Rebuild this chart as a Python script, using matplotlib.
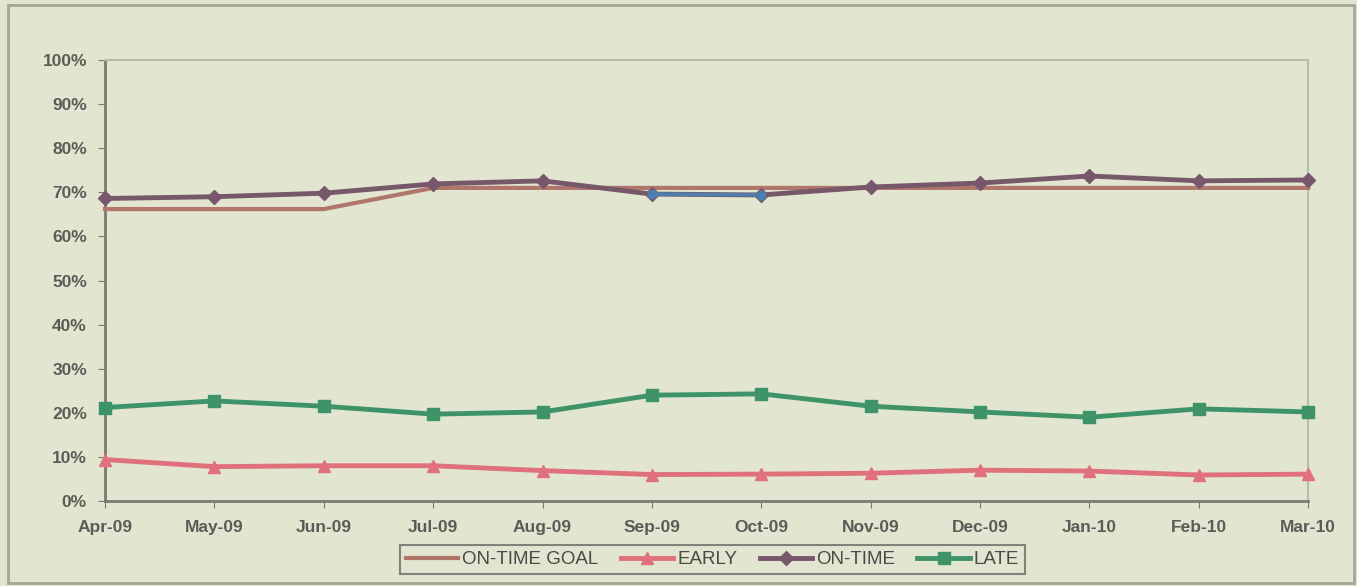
import matplotlib
matplotlib.use("Agg")
import matplotlib.pyplot as plt
from matplotlib.patches import Rectangle
from matplotlib.ticker import PercentFormatter

# data (percent)
months = ["Apr-09", "May-09", "Jun-09", "Jul-09", "Aug-09", "Sep-09",
          "Oct-09", "Nov-09", "Dec-09", "Jan-10", "Feb-10", "Mar-10"]
goal = [66.2, 66.2, 66.2, 71, 71, 71, 71, 71, 71, 71, 71, 71]
early = [9.4, 7.8, 8.0, 8.0, 6.9, 6.0, 6.1, 6.3, 7.0, 6.8, 5.9, 6.1]
on_time = [68.6, 69.0, 69.8, 71.9, 72.6, 69.6, 69.4, 71.2, 72.1, 73.7, 72.6, 72.8]
late = [21.2, 22.7, 21.5, 19.7, 20.2, 24.0, 24.3, 21.5, 20.2, 19.0, 20.9, 20.2]
# months where on-time fell below goal (drawn blue in the scan)
below = [5, 6]

bg = "#e2e5d0"
txt = "#5c5c56"
plt.rcParams['font.family'] = ['Liberation Sans', 'DejaVu Sans']

fig = plt.figure(figsize=(13.57, 5.86), dpi=100, facecolor=bg)
ax = fig.add_axes([0.0774, 0.145, 0.8866, 0.7526], facecolor=bg)

x = list(range(len(months)))
ax.plot(x, goal, color="#b0766c", lw=3, label="ON-TIME GOAL", clip_on=False, zorder=3)
ax.plot(x, early, color="#e0707c", lw=3.5, marker="^", ms=9, label="EARLY", clip_on=False, zorder=4)
ax.plot(x, on_time, color="#76586a", lw=3.5, marker="D", ms=7, label="ON-TIME", clip_on=False, zorder=5)
ax.plot([x[i] for i in below], [on_time[i] for i in below], color="#4a7fb0", lw=2.5,
        marker="o", ms=6, clip_on=False, zorder=6)
ax.plot(x, late, color="#3e9468", lw=3.5, marker="s", ms=9, label="LATE", clip_on=False, zorder=4)

ax.set_xlim(0, 11)
ax.set_ylim(0, 100)
ax.set_yticks(range(0, 101, 10))
ax.yaxis.set_major_formatter(PercentFormatter(decimals=0))
ax.set_xticks(x)
ax.set_xticklabels(months)
ax.tick_params(axis="both", colors="#7a7a70", labelcolor=txt, labelsize=12.5, length=5)
ax.tick_params(axis="x", pad=9)
ax.tick_params(axis="y", pad=8)
for lab in ax.get_xticklabels() + ax.get_yticklabels():
    lab.set_fontweight("bold")

for side in ["top", "right"]:
    ax.spines[side].set_color("#b8bcaa")
    ax.spines[side].set_linewidth(1.5)
for side in ["left", "bottom"]:
    ax.spines[side].set_color("#7a7a70")
    ax.spines[side].set_linewidth(2)

leg = fig.legend(loc="center", bbox_to_anchor=(0.525, 0.045), ncol=4, frameon=True,
                 fancybox=False, edgecolor="#6a6a62", facecolor=bg, fontsize=13.5,
                 handlelength=2.8, columnspacing=1.2, handletextpad=0.2,
                 borderpad=0.3, labelcolor="#4a4a46")
leg.get_frame().set_linewidth(1.5)

# outer chart frame
fig.patches.append(Rectangle((8 / 1357, 3 / 586), 1346 / 1357, 578 / 586,
                             transform=fig.transFigure, fill=False,
                             edgecolor="#a4a698", lw=2))

fig.savefig("out.png", dpi=100, facecolor=bg)
